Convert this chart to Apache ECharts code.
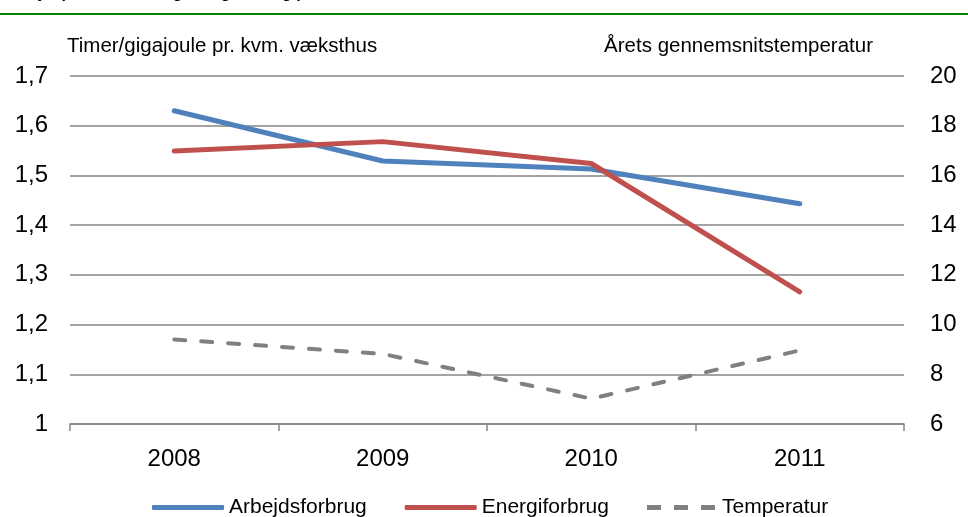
<!DOCTYPE html>
<html>
<head>
<meta charset="utf-8">
<title>Arbejdsforbrug og energiforbrug</title>
<script src="https://cdn.jsdelivr.net/npm/echarts@6/dist/echarts.min.js"></script>
<style>
  html, body {
    margin: 0;
    padding: 0;
    background: #fff;
  }
  #chart {
    width: 968px;
    height: 517px;
  }
</style>
</head>
<body>
<div id="chart"></div>
<script>
// data
const years = ['2008', '2009', '2010', '2011']
const arbejdsforbrug = [1.63, 1.529, 1.513, 1.443]
const energiforbrug = [1.549, 1.568, 1.524, 1.266]
const temperatur = [9.4, 8.82, 7.02, 8.96]

const leftTicks = { min: 1, max: 1.7, step: 0.1 }
const rightTicks = { min: 6, max: 20, step: 2 }

const font = 'Liberation Sans, Arial, sans-serif'
const gridColor = '#868686'

var myChart = echarts.init(document.getElementById('chart'))

var option = {
  animation: false,
  textStyle: {
    fontFamily: font
  },
  graphic: [
    {
      // cut-off heading above the green rule
      type: 'text',
      left: 2,
      top: -14,
      style: {
        text: 'Arbejdsproduktivitet og energiforbrug pr. kvm. væksthus',
        font: 'bold 16px ' + font,
        fill: '#000'
      }
    },
    {
      type: 'line',
      shape: { x1: 0, y1: 14, x2: 968, y2: 14 },
      style: { stroke: '#008000', lineWidth: 2 }
    }
  ],
  grid: {
    left: 70,
    right: 64,
    top: 76,
    bottom: 93
  },
  legend: {
    top: 492,
    left: 147,
    itemWidth: 72,
    itemHeight: 5,
    itemGap: 38,
    textStyle: {
      fontSize: 21,
      color: '#000'
    },
    data: [
      { name: 'Arbejdsforbrug', icon: 'roundRect' },
      { name: 'Energiforbrug', icon: 'roundRect' },
      { name: 'Temperatur', icon: 'path://M0,0H14V5H0Z M27,0H41V5H27Z M54,0H68V5H54Z' }
    ]
  },
  xAxis: {
    type: 'category',
    data: years,
    boundaryGap: true,
    axisLine: {
      show: true,
      lineStyle: { color: gridColor, width: 1.5 }
    },
    axisTick: {
      show: true,
      length: 7,
      lineStyle: { color: gridColor, width: 1.5 }
    },
    axisLabel: {
      margin: 23,
      fontSize: 24,
      color: '#000'
    }
  },
  yAxis: [
    {
      type: 'value',
      min: leftTicks.min,
      max: leftTicks.max,
      interval: leftTicks.step,
      name: 'Timer/gigajoule pr. kvm. væksthus',
      nameGap: 19,
      nameTextStyle: {
        align: 'left',
        fontSize: 20.5,
        color: '#000',
        padding: [0, 0, 0, -3]
      },
      axisLine: { show: false },
      axisTick: { show: false },
      splitLine: {
        show: true,
        lineStyle: { color: gridColor, width: 1.5 }
      },
      axisLabel: {
        margin: 22,
        fontSize: 24,
        color: '#000',
        formatter: function (v) {
          return v === 1 ? '1' : v.toFixed(1).replace('.', ',')
        }
      }
    },
    {
      type: 'value',
      min: rightTicks.min,
      max: rightTicks.max,
      interval: rightTicks.step,
      name: 'Årets gennemsnitstemperatur',
      nameGap: 19,
      nameTextStyle: {
        align: 'right',
        fontSize: 20.5,
        color: '#000',
        padding: [0, 31, 0, 0]
      },
      axisLine: { show: false },
      axisTick: { show: false },
      splitLine: { show: false },
      axisLabel: {
        margin: 26,
        fontSize: 24,
        color: '#000'
      }
    }
  ],
  series: [
    {
      name: 'Arbejdsforbrug',
      type: 'line',
      yAxisIndex: 0,
      data: arbejdsforbrug,
      symbol: 'none',
      itemStyle: { color: '#4F81BD' },
      lineStyle: { color: '#4F81BD', width: 5, cap: 'round' },
      z: 3
    },
    {
      name: 'Energiforbrug',
      type: 'line',
      yAxisIndex: 0,
      data: energiforbrug,
      symbol: 'none',
      itemStyle: { color: '#C0504D' },
      lineStyle: { color: '#C0504D', width: 5, cap: 'round' },
      z: 4
    },
    {
      name: 'Temperatur',
      type: 'line',
      yAxisIndex: 1,
      data: temperatur,
      symbol: 'none',
      itemStyle: { color: '#808080' },
      lineStyle: { color: '#808080', width: 4, type: [11, 16], cap: 'round' },
      z: 2
    }
  ]
}

myChart.setOption(option)
</script>
</body>
</html>
